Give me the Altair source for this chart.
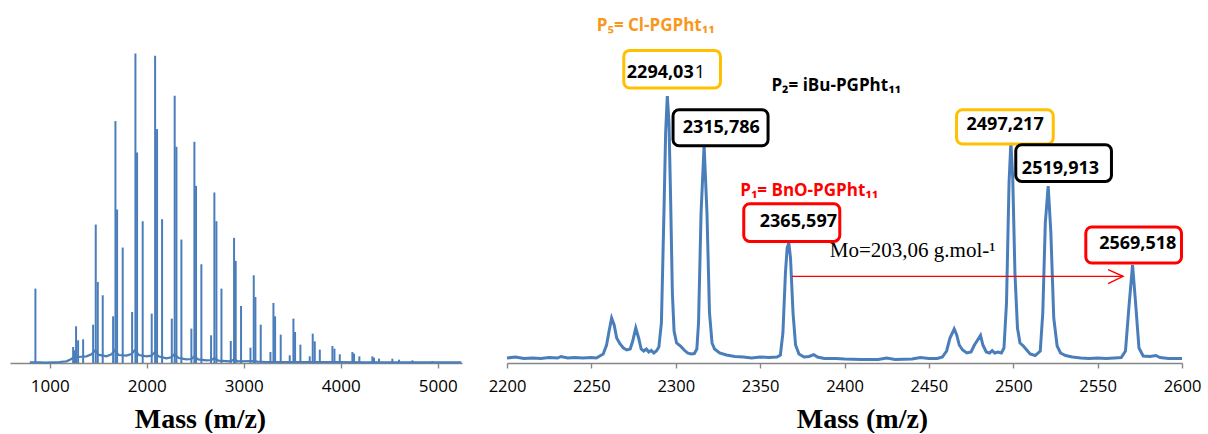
import altair as alt
import pandas as pd

# ---------------- data ----------------
# Left panel: full MALDI spectrum (stick peaks + baseline envelope), arbitrary units
L_PEAK_MASS = [852, 1241, 1258, 1271, 1292, 1344, 1447, 1474, 1495, 1546, 1653, 1677, 1694,
               1752, 1849, 1883, 1900, 1958, 2051, 2086, 2106, 2158, 2258, 2288, 2306, 2357,
               2460, 2491, 2508, 2563, 2663, 2697, 2718, 2770, 2866, 2900, 2917, 2972, 3069,
               3103, 3120, 3175, 3275, 3306, 3323, 3381, 3474, 3512, 3529, 3584, 3680, 3711,
               3732, 3784, 3914, 3935, 3990, 4120, 4137, 4192, 4326, 4343, 4395, 4532, 4601,
               4739, 4945]
L_PEAK_INT = [223, 48, 38, 110, 68, 71, 115, 415, 243, 203, 140, 725, 460,
              346, 153, 928, 631, 425, 148, 921, 701, 431, 133, 801, 648, 370,
              103, 663, 531, 296, 83, 511, 425, 223, 66, 375, 306, 171, 46,
              263, 198, 115, 33, 180, 140, 85, 23, 133, 93, 55, 20, 88,
              65, 40, 51, 43, 26, 33, 28, 20, 20, 16, 13, 13, 10,
              8, 6]
L_BASE_MASS = [794, 840, 870, 900, 950, 1034, 1100, 1172, 1223, 1260, 1300, 1378, 1430, 1470,
               1500, 1584, 1636, 1670, 1710, 1790, 1842, 1876, 1920, 1997, 2048, 2082, 2120,
               2203, 2254, 2285, 2330, 2409, 2460, 2490, 2530, 2615, 2667, 2697, 2740, 2856,
               2900, 2940, 3096, 3140, 3234, 3577, 3921, 4265, 5244]
L_BASE_INT = [2, 2, 2, 2, 1, 2, 3, 5, 12, 20, 18, 20, 26, 38,
              25, 20, 26, 38, 24, 22, 27, 38, 24, 20, 22, 32, 20,
              14, 17, 26, 15, 11, 12, 20, 11, 8, 9, 15, 7, 5,
              10, 5, 6, 4, 3, 3, 3, 2, 2]

# Right panel: zoom 2200-2600, arbitrary units
R_MASS = [2200, 2205, 2210, 2215, 2220, 2225, 2230, 2232, 2236, 2240, 2245, 2250, 2253, 2255,
          2257, 2259, 2260.5, 2262, 2263.5, 2265, 2267, 2269, 2271, 2273, 2274.5, 2276.3, 2278,
          2279.5, 2281, 2282.6, 2284, 2285.5, 2287, 2288.5, 2290, 2291.5, 2293, 2294, 2295,
          2296, 2297, 2298, 2299, 2300.5, 2303, 2305, 2307, 2309, 2311, 2312.5, 2313.5, 2315,
          2316.8, 2318.5, 2320, 2321.5, 2323, 2326, 2330, 2335, 2340, 2345, 2350, 2355, 2360,
          2362, 2363.5, 2365, 2366, 2367, 2368, 2369.5, 2371, 2373, 2376, 2379, 2381.8, 2384,
          2388, 2395, 2400, 2410, 2420, 2425, 2430, 2440, 2445, 2450, 2455, 2458, 2460.5,
          2462.5, 2465, 2466.5, 2468, 2470, 2472.5, 2475, 2477, 2478.5, 2480.6, 2482, 2484,
          2486, 2487.5, 2489, 2491, 2493, 2494.5, 2496, 2497.5, 2498.6, 2499.7, 2501, 2502.5,
          2504, 2506, 2508, 2510, 2513, 2516, 2517.5, 2519, 2520.7, 2522.3, 2524, 2526, 2528,
          2531, 2535, 2540, 2545, 2550, 2555, 2560, 2564, 2566.5, 2568.5, 2570.7, 2572.5,
          2574.5, 2577, 2581, 2584.5, 2587, 2592, 2600]
R_INT = [5, 6, 4.5, 5, 4.5, 5.5, 5, 6.5, 5, 5.5, 5, 5.5, 5, 7,
         9, 18, 32, 45, 38, 25, 19, 15, 13, 14, 22, 35, 25,
         14, 12, 14, 11, 12.5, 10, 12, 16, 40, 150, 230, 267,
         240, 160, 70, 32, 20, 16.6, 13, 10, 9, 9.5, 14, 40, 150,
         218, 150, 50, 20, 14, 10, 8, 6.5, 6, 5, 6, 5.5, 6,
         8, 30, 90, 115, 120, 105, 50, 18, 9, 6, 6.5, 8.3, 6,
         4.5, 4.5, 4, 3.5, 3.5, 5, 3.5, 4, 5.5, 4.5, 4.5, 6, 12,
         25, 34, 28, 18, 13, 10, 11, 18, 22, 27.6, 18, 11,
         10, 12.5, 10, 11, 10, 15, 60, 180, 220.6, 185, 90, 35,
         20, 17, 13, 9, 7.5, 12, 50, 140, 177, 130, 45, 17, 10,
         7.5, 6, 5, 4.5, 5, 4.5, 5, 5.5, 12, 55, 98, 60,
         15, 7, 6.5, 7.5, 5.5, 4.5, 4.5]

# Callout boxes: [mass left, mass right, int bottom, int top, colour]
BOX_M1 = [2269.2, 2298.4, 2340.3, 2466.4, 2501.5, 2543.0]
BOX_M2 = [2326.5, 2354.7, 2397.2, 2523.7, 2558.2, 2599.7]
BOX_H1 = [275.0, 217.3, 121.6, 219.0, 181.6, 100.0]
BOX_H2 = [312.6, 253.3, 159.3, 253.3, 218.3, 136.0]
BOX_COLOR = ["#FFC000", "#000000", "#FF0000", "#FFC000", "#000000", "#FF0000"]
BOX_TEXT = ["2294,03", "2315,786", "2365,597", "2497,217", "2519,913", "2569,518"]
BOX_TEXT_M = [2271.0, 2304.1, 2349.8, 2472.3, 2505.1, 2550.9]
BOX_TEXT_H = [290.3, 235.3, 140.6, 238.3, 194.0, 119.3]

# Series labels
SER_TEXT = ["P\u2085= Cl-PGPht\u2081\u2081", "P\u2082= iBu-PGPht\u2081\u2081", "P\u2081= BnO-PGPht\u2081\u2081"]
SER_COLOR = ["#F7981D", "#000000", "#FF0000"]
SER_M = [2253.2, 2356.7, 2338.2]
SER_H = [337.3, 276.6, 171.6]

# Repeat unit arrow
ARROW_M = [2368.9, 2565.1]
ARROW_H = 86.6
HEAD_M = [2556.2, 2565.1, 2556.2]
HEAD_H = [93.3, 86.6, 79.3]
MO_TEXT = "Mo=203,06 g.mol-\u00b9"
MO_M, MO_H = 2391.3, 111.6

LEFT_TICKS = [1000, 2000, 3000, 4000, 5000]
RIGHT_TICKS = [2200, 2250, 2300, 2350, 2400, 2450, 2500, 2550, 2600]

BLUE = "#4A7EBB"
AX = "#868686"
H = 363


def x_axis(values, title_x, size):
    return alt.Axis(values=values, format="d", title="Mass (m/z)", grid=False,
                    domainColor=AX, domainWidth=1.4, tickColor=AX, tickWidth=1.4, tickSize=5,
                    labelFont="Open Sans", labelFontSize=size, labelColor="#000000",
                    labelBaseline="middle", labelPadding=18, labelFlush=False,
                    titleFont="Liberation Serif", titleFontSize=28, titleFontWeight="bold",
                    titleColor="#000000", titleX=title_x, titleY=56, titleBaseline="middle",
                    titleAlign="center")


# ---------------- left panel ----------------
lx_scale = alt.Scale(domain=[590, 5250], nice=False, zero=False)
ly_scale = alt.Scale(domain=[0, 1088], nice=False)
peaks = pd.DataFrame({"m": L_PEAK_MASS, "i": L_PEAK_INT, "z": [0] * len(L_PEAK_MASS)})
base = pd.DataFrame({"m": L_BASE_MASS, "i": L_BASE_INT})

left_base = alt.Chart(base).mark_line(color=BLUE, strokeWidth=2.2).encode(
    x=alt.X("m:Q", scale=lx_scale, axis=x_axis(LEFT_TICKS, 190, 17)),
    y=alt.Y("i:Q", scale=ly_scale, axis=None),
)
left_peaks = alt.Chart(peaks).mark_rule(color=BLUE, strokeWidth=2).encode(
    x=alt.X("m:Q", scale=lx_scale),
    y=alt.Y("z:Q", scale=ly_scale),
    y2="i:Q",
)
left = alt.layer(left_base, left_peaks).properties(width=452, height=H)

# ---------------- right panel ----------------
rx_scale = alt.Scale(domain=[2200, 2600], nice=False, zero=False)
ry_scale = alt.Scale(domain=[0, 363], nice=False)
spec = pd.DataFrame({"m": R_MASS, "i": R_INT})
boxes = pd.DataFrame({"m1": BOX_M1, "m2": BOX_M2, "h1": BOX_H1, "h2": BOX_H2, "c": BOX_COLOR})
btext = pd.DataFrame({"m": BOX_TEXT_M, "h": BOX_TEXT_H, "t": BOX_TEXT})
stext = pd.DataFrame({"m": SER_M, "h": SER_H, "t": SER_TEXT, "c": SER_COLOR})
arrow = pd.DataFrame({"m1": [ARROW_M[0]], "m2": [ARROW_M[1]], "h": [ARROW_H]})
head = pd.DataFrame({"m": HEAD_M, "h": HEAD_H, "o": [0, 1, 2]})
mo = pd.DataFrame({"m": [MO_M], "h": [MO_H], "t": [MO_TEXT]})
last1 = pd.DataFrame({"m": [2311.2], "h": [290.3], "t": ["1"]})

r_line = alt.Chart(spec).mark_line(color=BLUE, strokeWidth=3).encode(
    x=alt.X("m:Q", scale=rx_scale, axis=x_axis(RIGHT_TICKS, 355, 16.5)),
    y=alt.Y("i:Q", scale=ry_scale, axis=None),
)
r_arrow = alt.Chart(arrow).mark_rule(color="#FF0000", strokeWidth=1.4).encode(
    x=alt.X("m1:Q", scale=rx_scale), x2="m2:Q", y=alt.Y("h:Q", scale=ry_scale)
)
r_head = alt.Chart(head).mark_line(color="#FF0000", strokeWidth=1.4).encode(
    x=alt.X("m:Q", scale=rx_scale), y=alt.Y("h:Q", scale=ry_scale), order="o:O"
)
r_boxes = alt.Chart(boxes).mark_rect(fill="white", strokeWidth=3, cornerRadius=6).encode(
    x=alt.X("m1:Q", scale=rx_scale), x2="m2:Q",
    y=alt.Y("h1:Q", scale=ry_scale), y2="h2:Q",
    stroke=alt.Stroke("c:N", scale=None),
)
r_btext = alt.Chart(btext).mark_text(align="left", baseline="middle", font="Open Sans",
                                      fontWeight="bold", fontSize=18, color="#000000").encode(
    x=alt.X("m:Q", scale=rx_scale), y=alt.Y("h:Q", scale=ry_scale), text="t:N"
)
r_last1 = alt.Chart(last1).mark_text(align="left", baseline="middle", font="Open Sans",
                                      fontWeight="normal", fontSize=18, color="#000000").encode(
    x=alt.X("m:Q", scale=rx_scale), y=alt.Y("h:Q", scale=ry_scale), text="t:N"
)
r_stext = alt.Chart(stext).mark_text(align="left", baseline="middle", font="Open Sans",
                                      fontWeight="bold", fontSize=17).encode(
    x=alt.X("m:Q", scale=rx_scale), y=alt.Y("h:Q", scale=ry_scale), text="t:N",
    color=alt.Color("c:N", scale=None),
)
r_mo = alt.Chart(mo).mark_text(align="left", baseline="middle", font="Liberation Serif",
                               fontSize=21, color="#000000").encode(
    x=alt.X("m:Q", scale=rx_scale), y=alt.Y("h:Q", scale=ry_scale), text="t:N"
)
right = alt.layer(r_line, r_arrow, r_head, r_boxes, r_btext, r_last1, r_stext, r_mo).properties(
    width=675, height=H)

chart = alt.hconcat(left, right, spacing=45, bounds="flush").properties(
    padding={"left": 10, "top": 0, "right": 0, "bottom": 0},
    background="white",
).configure_view(stroke=None)

chart.save("out.html", embed_options={"renderer": "svg", "actions": False})
